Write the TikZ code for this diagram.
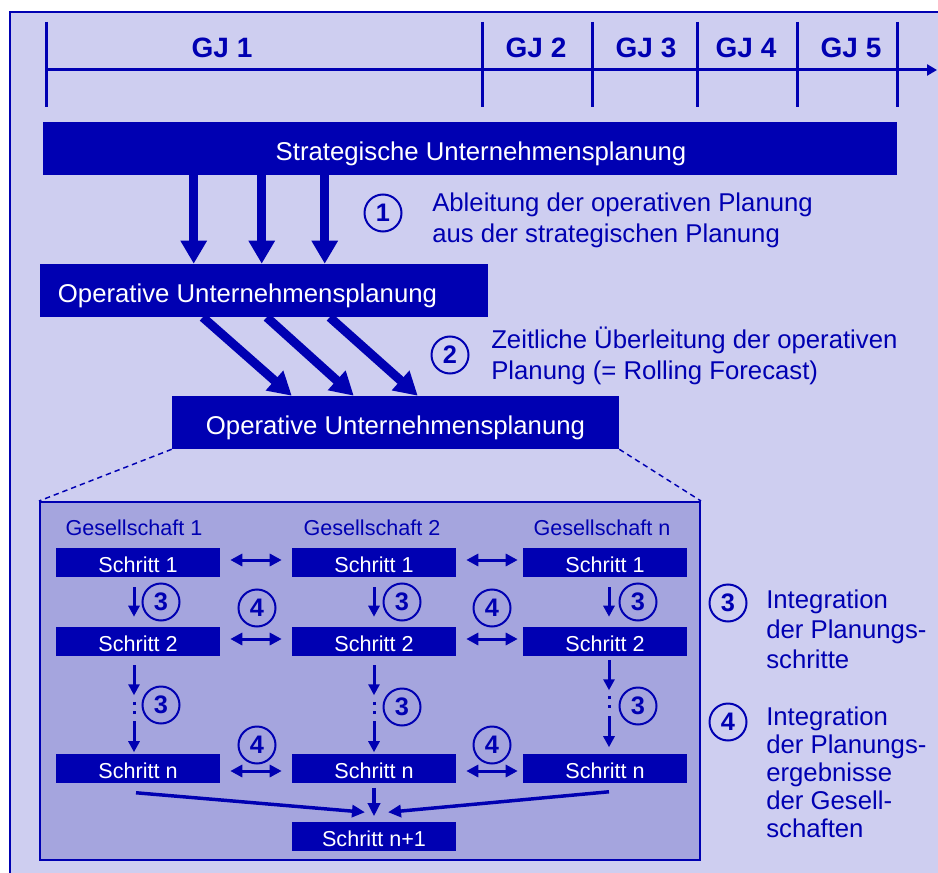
\documentclass[tikz,border=0pt]{standalone}
\usepackage{fontspec}
\setmainfont{Liberation Sans}
\usetikzlibrary{arrows.meta,calc}
\definecolor{planblue}{RGB}{0,0,178}
\definecolor{paper}{RGB}{206,206,240}
\definecolor{zoomfill}{RGB}{165,165,222}

\begin{document}
\begin{tikzpicture}[x=0.75pt, y=-0.75pt,
  every node/.style={inner sep=0pt},
  bar/.style={fill=planblue, text=white, font=\fontsize{19.3pt}{23pt}\selectfont,
    text height=18.5pt, text depth=0pt, minimum height=39.75pt},
  stepbox/.style={fill=planblue, text=white, font=\fontsize{16.2pt}{19pt}\selectfont,
    text height=15.3pt, text depth=0pt, minimum width=123pt, minimum height=21.75pt},
  yearlabel/.style={text=planblue, font=\fontsize{21pt}{25pt}\selectfont\bfseries},
  numcirc/.style={circle, draw=planblue, line width=1.5pt, text=planblue,
    minimum size=27.75pt, font=\fontsize{19pt}{22pt}\selectfont\bfseries},
  note/.style={text=planblue, align=left, anchor=base west},
  company/.style={text=planblue, font=\fontsize{16.2pt}{19pt}\selectfont, anchor=base},
  bigarrow/.style={planblue, line width=6.75pt, -{Triangle[width=18.75pt,length=17.25pt]}},
  smallarrow/.style={planblue, line width=2.25pt, -{Triangle[width=8.25pt,length=8.25pt]}},
  dblarrow/.style={planblue, line width=2.25pt,
    {Triangle[width=9pt,length=9pt]}-{Triangle[width=9pt,length=9pt]}},
  mergearrow/.style={planblue, line width=2.6pt, -{Triangle[width=9pt,length=9.75pt]}},
  axis/.style={planblue, line width=2.25pt},
  dots/.style={planblue, line width=2.25pt, dash pattern=on 2.5pt off 4.5pt},
]
\useasboundingbox (0,0) rectangle (938,873);
\fill[white] (0,0) rectangle (938,873);

% page background and frame
\fill[paper] (10,12) rectangle (938,873);
\draw[planblue, line width=1.5pt] (10,873) -- (10,12) -- (938,12);

% time axis with fiscal years
\draw[axis, -{Triangle[width=8.25pt,length=7.5pt]}] (46,70) -- (937,70);
\foreach \tx in {46,482,592,697,797,897}
  \draw[axis] (\tx,22) -- (\tx,107);
\node[yearlabel] (gj1) at (222,48) {GJ 1};
\node[yearlabel] (gj2) at (536,48) {GJ 2};
\node[yearlabel] (gj3) at (646,48) {GJ 3};
\node[yearlabel] (gj4) at (746,48) {GJ 4};
\node[yearlabel] (gj5) at (851,48) {GJ 5};

% planning levels
\node[bar, minimum width=854*0.75pt] (strat) at (470,148.5)
  {\hspace*{16.5pt}Strategische Unternehmensplanung};
\node[bar, minimum width=448*0.75pt] (op1) at (264,290.5)
  {Operative Unternehmensplanung\hspace*{24.75pt}};
\node[bar, minimum width=447*0.75pt] (op2) at (395.5,422.5)
  {Operative Unternehmensplanung};

% derivation arrows
\foreach \a/\b in {151/154, 219/222, 282/285}
  \draw[bigarrow] ($(strat.south west)+(\a,0)$) -- ($(op1.north west)+(\b,0)$);
\foreach \a/\b in {163/120, 227/182, 290/246}
  \draw[bigarrow] ($(op1.south west)+(\a,0)$) -- ($(op2.north west)+(\b,0)$);

% the base anchor of a multi-line note sits on its last line
\node[numcirc] (n1) at (383,213) {1};
\node[note, font=\fontsize{19.3pt}{23.25pt}\selectfont] (t1) at (432,243)
  {Ableitung der operativen Planung\\aus der strategischen Planung};
\node[numcirc] (n2) at (450,355) {2};
\node[note, font=\fontsize{19.3pt}{23.25pt}\selectfont] (t2) at (491,379)
  {Zeitliche Überleitung der operativen\\Planung (= Rolling Forecast)};

% detail panel
\node[draw=planblue, fill=zoomfill, line width=1.5pt,
      minimum width=660*0.75pt, minimum height=358*0.75pt] (panel) at (370,681) {};
\draw[planblue, line width=1.1pt, dash pattern=on 4pt off 3pt]
  (op2.south west) -- (panel.north west);
\draw[planblue, line width=1.1pt, dash pattern=on 4pt off 3pt]
  (op2.south east) -- (panel.north east);

\node[company] (g1) at (134,535) {Gesellschaft 1};
\node[company] (g2) at (372,535) {Gesellschaft 2};
\node[company] (g3) at (602,535) {Gesellschaft n};

\node[stepbox] (s11) at (138,562.5) {Schritt 1};
\node[stepbox] (s21) at (374,562.5) {Schritt 1};
\node[stepbox] (s31) at (605,562.5) {Schritt 1};
\node[stepbox] (s12) at (138,641.5) {Schritt 2};
\node[stepbox] (s22) at (374,641.5) {Schritt 2};
\node[stepbox] (s32) at (605,641.5) {Schritt 2};
\node[stepbox] (s1n) at (138,768) {Schritt n};
\node[stepbox] (s2n) at (374,768) {Schritt n};
\node[stepbox] (s3n) at (605,768) {Schritt n};
\node[stepbox] (snp) at (374,836) {Schritt n+1};

% step 1 -> step 2
\draw[smallarrow] ($(s11.south)+(-4,10)$) -- ($(s12.north)+(-4,-10)$);
\draw[smallarrow] ($(s21.south)+(0,10)$) -- ($(s22.north)+(0,-10)$);
\draw[smallarrow] ($(s31.south)+(4,10)$) -- ($(s32.north)+(4,-10)$);

% step 2 -> step n (interrupted)
\draw[smallarrow] ($(s12.south)+(-4,9)$) -- ($(s12.south)+(-4,39)$);
\draw[dots] ($(s12.south)+(-4,45.5)$) -- ($(s12.south)+(-4,58)$);
\draw[smallarrow] ($(s1n.north)+(-4,-32)$) -- ($(s1n.north)+(-4,-1)$);
\draw[smallarrow] ($(s22.south)+(0,9)$) -- ($(s22.south)+(0,39)$);
\draw[dots] ($(s22.south)+(0,45.5)$) -- ($(s22.south)+(0,58)$);
\draw[smallarrow] ($(s2n.north)+(0,-32)$) -- ($(s2n.north)+(0,-1)$);
\draw[smallarrow] ($(s32.south)+(4,4)$) -- ($(s32.south)+(4,34)$);
\draw[dots] ($(s32.south)+(4,39.5)$) -- ($(s32.south)+(4,52)$);
\draw[smallarrow] ($(s3n.north)+(4,-37)$) -- ($(s3n.north)+(4,-6)$);

% exchange between companies
\draw[dblarrow] ($(s11.east)+(10,-2.5)$) -- ($(s21.west)+(-10,-2.5)$);
\draw[dblarrow] ($(s21.east)+(10,-2.5)$) -- ($(s31.west)+(-5,-2.5)$);
\draw[dblarrow] ($(s12.east)+(10,-2.5)$) -- ($(s22.west)+(-10,-2.5)$);
\draw[dblarrow] ($(s22.east)+(10,-2.5)$) -- ($(s32.west)+(-5,-2.5)$);
\draw[dblarrow] ($(s1n.east)+(10,3)$) -- ($(s2n.west)+(-10,3)$);
\draw[dblarrow] ($(s2n.east)+(10,3)$) -- ($(s3n.west)+(-5,3)$);

% merge into final step
\draw[mergearrow] ($(s1n.south)+(-2,10)$) -- ($(snp.north)+(-9,-9)$);
\draw[mergearrow] ($(s2n.south)+(0,5)$) -- ($(snp.north)+(0,-5)$);
\draw[mergearrow] ($(s3n.south)+(4,9)$) -- ($(snp.north)+(14,-9)$);

% circled markers inside the panel
\node[numcirc] (a1) at (161,602) {3};
\node[numcirc] (a2) at (402,602) {3};
\node[numcirc] (a3) at (638,602) {3};
\node[numcirc] (b1) at (161,705) {3};
\node[numcirc] (b2) at (402,707) {3};
\node[numcirc] (b3) at (638,706) {3};
\node[numcirc] (c1) at (257,608) {4};
\node[numcirc] (c2) at (492,608) {4};
\node[numcirc] (d1) at (257,745) {4};
\node[numcirc] (d2) at (492,745) {4};

% legend
\node[numcirc] (l3) at (728,603) {3};
\node[note, font=\fontsize{19.3pt}{22.5pt}\selectfont] (lt3) at (766,668)
  {Integration\\der Planungs-\\schritte};
\node[numcirc] (l4) at (728,722) {4};
\node[note, font=\fontsize{19.3pt}{21pt}\selectfont] (lt4) at (766,837)
  {Integration\\der Planungs-\\ergebnisse\\der Gesell-\\schaften};
\end{tikzpicture}
\end{document}
